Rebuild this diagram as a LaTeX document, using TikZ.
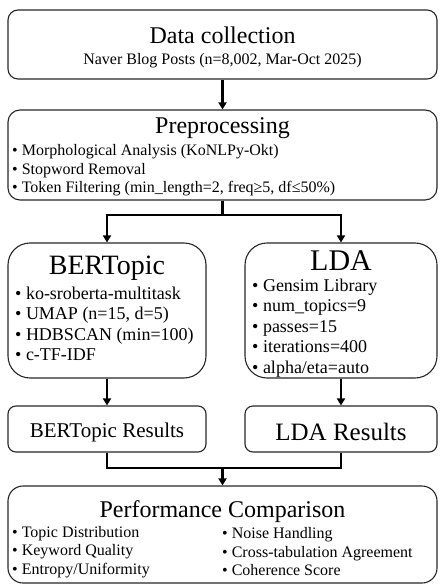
\documentclass[tikz,border=0pt]{standalone}
\usepackage{fontspec}
\setmainfont{Liberation Serif}
\usetikzlibrary{arrows.meta,positioning}

\tikzset{
  box/.style={draw=black!85, line width=1.1pt, rounded corners=#1, inner sep=0pt},
  box/.default=10pt,
  flow/.style={line width=2.4pt, -{Triangle[length=7pt,width=8pt]}},
  link/.style={line width=2.4pt},
  ttl/.style={font=\fontsize{24}{28}\selectfont, inner sep=0pt},
  bigttl/.style={font=\fontsize{28}{32}\selectfont, inner sep=0pt},
  resttl/.style={font=\fontsize{21}{25}\selectfont, inner sep=0pt},
  items/.style={font=\fontsize{16}{18.5}\selectfont, align=left, anchor=west, inner sep=0pt},
  bigitems/.style={font=\fontsize{18}{20.5}\selectfont, align=left, anchor=west, inner sep=0pt},
}

\begin{document}
\begin{tikzpicture}[x=1pt, y=-1pt]
    \useasboundingbox (0,0) rectangle (439,585);

    % boxes
    \node[box, minimum width=429pt, minimum height=69pt] (collect) at (222.5,44.5) {};
    \node[box=12pt, minimum width=429pt, minimum height=90pt] (prep) at (222.5,155) {};
    \node[box=22pt, minimum width=198pt, minimum height=135pt] (bert) at (107,310.5) {};
    \node[box=22pt, minimum width=192pt, minimum height=135pt] (lda) at (341,310.5) {};
    \node[box=8pt, minimum width=198pt, minimum height=46pt] (bertres) at (107,429) {};
    \node[box=8pt, minimum width=192pt, minimum height=46pt] (ldares) at (341,429) {};
    \node[box=15pt, minimum width=429pt, minimum height=97pt] (perf) at (222.5,534.5) {};

    % texts
    \node[ttl] (collectttl) at (222.5,35) {Data collection};
    \node[font=\fontsize{16}{19}\selectfont, inner sep=0pt] (collectsub) at (222.5,61)
        {Naver Blog Posts (n=8,002, Mar-Oct 2025)};

    \node[ttl] (prepttl) at (222.5,128) {Preprocessing};
    \node[items] (prepitems) at (12,170.5) {• Morphological Analysis (KoNLPy-Okt)\\
        • Stopword Removal\\
        • Token Filtering (min\_length=2, freq≥5, df≤50\%)};

    \node[bigttl] (bertttl) at (107,268) {BERTopic};
    \node[bigitems] (bertitems) at (15,324) {• ko-sroberta-multitask\\
        • UMAP (n=15, d=5)\\
        • HDBSCAN (min=100)\\
        • c-TF-IDF};

    \node[bigttl, font=\fontsize{30}{34}\selectfont] (ldattl) at (341,261) {LDA};
    \node[bigitems] (ldaitems) at (252,328) {• Gensim Library\\
        • num\_topics=9\\
        • passes=15\\
        • iterations=400\\
        • alpha/eta=auto};

    \node[resttl] (bertresttl) at (107,432) {BERTopic Results};
    \node[resttl, font=\fontsize{25}{29}\selectfont] (ldaresttl) at (341,432) {LDA Results};

    \node[ttl] (perfttl) at (222.5,512) {Performance Comparison};
    \node[items] (perfleft) at (12,552) {• Topic Distribution\\
        • Keyword Quality\\
        • Entropy/Uniformity};
    \node[items] (perfright) at (222,552) {• Noise Handling\\
        • Cross-tabulation Agreement\\
        • Coherence Score};

    % connectors
    \coordinate (split) at (prep.south |- 0,215);
    \coordinate (merge) at (perf.north |- 0,468);
    \draw[flow] (collect.south) -- (prep.north);
    \draw[link] (prep.south) -- (split);
    \draw[flow] (split) -| (bert.north);
    \draw[flow] (split) -| (lda.north);
    \draw[flow] (bert.south) -- (bertres.north);
    \draw[flow] (lda.south) -- (ldares.north);
    \draw[link] (bertres.south) |- (merge);
    \draw[link] (ldares.south) |- (merge);
    \draw[flow] (merge) -- (perf.north);
\end{tikzpicture}
\end{document}
